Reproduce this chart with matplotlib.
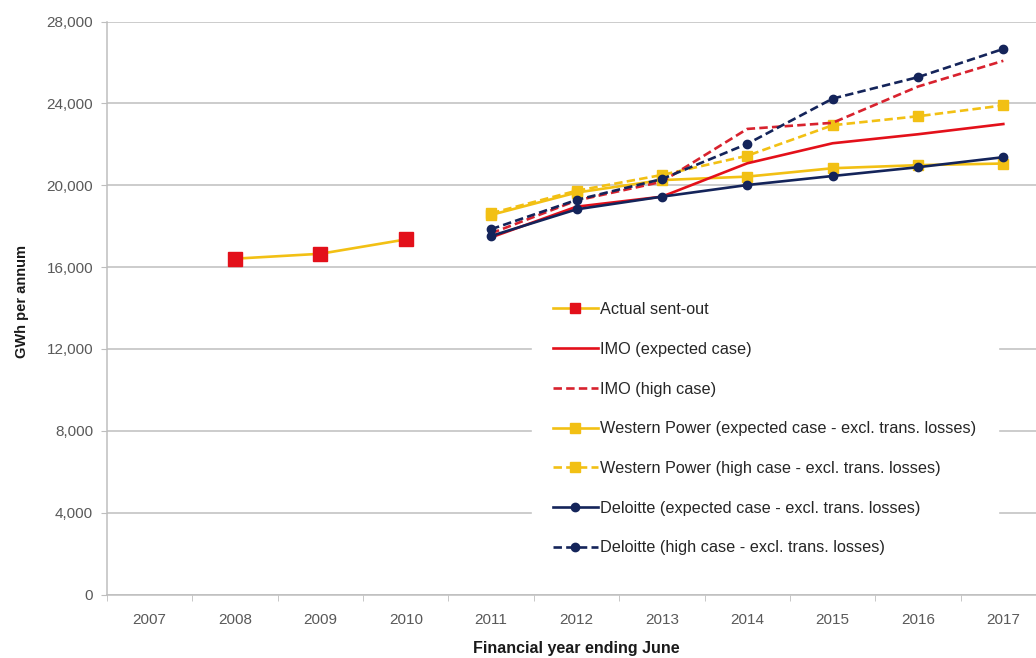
import matplotlib
matplotlib.use("Agg")
import matplotlib.pyplot as plt
from matplotlib.ticker import FuncFormatter, FixedLocator

plt.rcParams['font.family'] = ['Liberation Sans', 'DejaVu Sans']

years = ['2007', '2008', '2009', '2010', '2011', '2012', '2013', '2014', '2015', '2016', '2017']

actual_years = ['2008', '2009', '2010']
actual = [16410, 16650, 17350]

fc_years = ['2011', '2012', '2013', '2014', '2015', '2016', '2017']
imo_expected = [17450, 18950, 19440, 21070, 22050, 22490, 22990]
imo_high = [17650, 19250, 20170, 22750, 23050, 24820, 26080]
wp_expected = [18550, 19640, 20250, 20420, 20830, 20980, 21060]
wp_high = [18630, 19730, 20500, 21440, 22930, 23370, 23900]
del_expected = [17520, 18820, 19440, 20010, 20450, 20880, 21370]
del_high = [17850, 19280, 20300, 22020, 24230, 25280, 26660]

YELLOW = '#F2C014'
RED = '#E3101A'
RED_DASH = '#D8222E'
NAVY = '#14245A'
GRID = '#BEBEBE'
TEXT = '#595959'

fig = plt.figure(figsize=(10.36, 6.58), dpi=100)
ax = fig.add_axes([107 / 1036, 1 - 594.5 / 658, 939 / 1036, 573 / 658])

xi = {y: i for i, y in enumerate(years)}
xa = [xi[y] for y in actual_years]
xf = [xi[y] for y in fc_years]

lw = 1.9
dash = (0, (3.2, 1.6))
ax.plot(xa, actual, color=YELLOW, lw=lw, marker='s', ms=9.5, mfc=RED, mec=RED,
        label='Actual sent-out', zorder=5)
ax.plot(xf, imo_expected, color=RED, lw=lw, label='IMO (expected case)', zorder=4)
ax.plot(xf, imo_high, color=RED_DASH, lw=lw, ls=dash,
        label='IMO (high case)', zorder=4)
ax.plot(xf, wp_expected, color=YELLOW, lw=lw, marker='s', ms=6.5,
        label='Western Power (expected case - excl. trans. losses)', zorder=3)
ax.plot(xf, wp_high, color=YELLOW, lw=lw, ls=dash, marker='s', ms=6.5,
        label='Western Power (high case - excl. trans. losses)', zorder=3)
ax.plot(xf, del_expected, color=NAVY, lw=lw, marker='o', ms=6,
        label='Deloitte (expected case - excl. trans. losses)', zorder=5)
ax.plot(xf, del_high, color=NAVY, lw=lw, ls=dash, marker='o', ms=6,
        label='Deloitte (high case - excl. trans. losses)', zorder=5)

ax.set_xlim(-0.5, len(years) - 0.5)
ax.set_ylim(0, 28000)
ax.set_yticks(range(0, 28001, 4000))
ax.yaxis.set_major_formatter(FuncFormatter(lambda v, p: f'{int(v):,}'))
ax.set_xticks(range(len(years)))
ax.set_xticklabels(years)
ax.xaxis.set_minor_locator(FixedLocator([i - 0.5 for i in range(len(years) + 1)]))
ax.tick_params(axis='x', which='major', length=0, pad=13, labelsize=11, labelcolor=TEXT)
ax.tick_params(axis='x', which='minor', length=4, color=GRID, direction='out')
ax.tick_params(axis='y', length=4, color=GRID, labelsize=11, labelcolor=TEXT, pad=6)

ax.grid(axis='y', color=GRID, lw=1.1, zorder=0)
ax.set_axisbelow(True)
for s in ['top', 'right']:
    ax.spines[s].set_visible(False)
for s in ['left', 'bottom']:
    ax.spines[s].set_color(GRID)
    ax.spines[s].set_linewidth(1.1)

fig.text(22 / 1036, 1 - 302 / 658, 'GWh per annum', rotation=90, ha='center', va='center',
         fontsize=10.5, fontweight='bold', color='#1a1a1a')
fig.text(576 / 1036, 1 - 649 / 658, 'Financial year ending June', ha='center', va='center',
         fontsize=11.5, fontweight='bold', color='#1a1a1a')

leg = ax.legend(loc='upper left', bbox_to_anchor=(532 / 1036, 1 - 281 / 658),
                bbox_transform=fig.transFigure, frameon=True, fancybox=False,
                facecolor='white', edgecolor='white', framealpha=1.0,
                fontsize=11.7, labelspacing=1.52, handlelength=2.75, handletextpad=0.15,
                borderpad=1.3, borderaxespad=0)
leg.set_zorder(10)
leg.legend_handles[0].set_markersize(7)
for t in leg.get_texts():
    t.set_color('#262626')

fig.savefig('out.png', dpi=100)
